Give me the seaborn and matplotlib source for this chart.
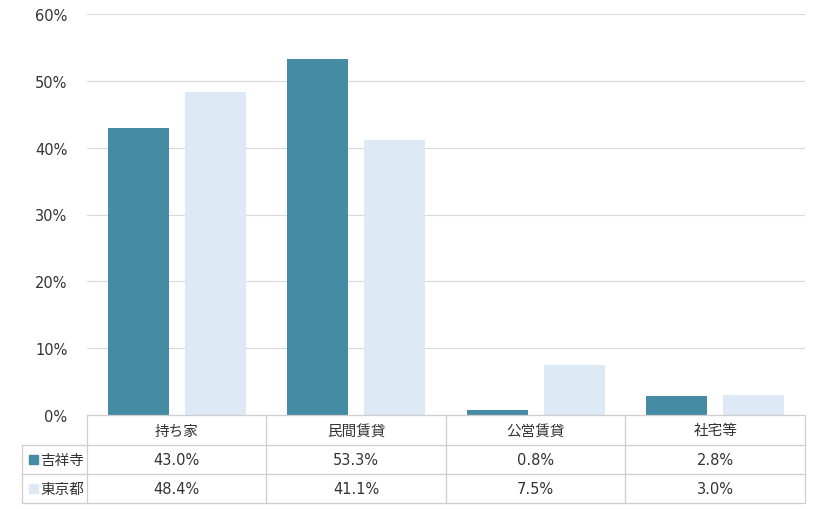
import numpy as np
import pandas as pd
import matplotlib
matplotlib.use("Agg")
import matplotlib.pyplot as plt
import seaborn as sns

categories = ["持ち家", "民間賃貸", "公営賃貸", "社宅等"]
series_names = ["吉祥寺", "東京都"]
kichijoji = [43.0, 53.3, 0.8, 2.8]
tokyo = [48.4, 41.1, 7.5, 3.0]
colors = ["#468BA4", "#DDE9F5"]

df = pd.DataFrame({
    "category": categories * 2,
    "area": [series_names[0]] * 4 + [series_names[1]] * 4,
    "value": kichijoji + tokyo,
})

sns.set_style("white")
plt.rcParams["font.family"] = ["DejaVu Sans", "Noto Sans CJK JP"]
fs = 10.5
grid_c = "#D9D9D9"
text_c = "#333333"

W, H = 820, 510
fig = plt.figure(figsize=(8.2, 5.1), dpi=100)
ax = fig.add_axes([87 / W, 1 - 416 / H, (805 - 87) / W, (416 - 15) / H])

sns.barplot(data=df, x="category", y="value", hue="area", palette=colors,
            width=0.856, gap=0.206, legend=False, ax=ax, saturation=1,
            linewidth=0, edgecolor="none")

ax.set_ylim(0, 60)
ax.set_xlim(-0.5, 3.5)
ax.set_yticks(range(0, 61, 10))
ax.set_yticklabels([f"{v}%" for v in range(0, 61, 10)], fontsize=fs, color=text_c)
ax.set_xticks([])
ax.set_xlabel("")
ax.set_ylabel("")
ax.tick_params(axis="y", length=0, pad=14)
for v in range(10, 61, 10):
    ax.axhline(v, color=grid_c, lw=0.8, zorder=0)
for s in ax.spines.values():
    s.set_visible(False)

# data table under the plot
tab = fig.add_axes([0, 0, 1, 1], facecolor="none")
tab.set_xlim(0, W)
tab.set_ylim(H, 0)
tab.axis("off")

x0, xl, x1 = 22, 87, 805
yh, y1, y2, y3 = 416, 446, 475, 504
cw = (x1 - xl) / 4
lc = "#CFCFCF"
lw = 0.9
tab.plot([xl, x1], [yh, yh], color=lc, lw=lw)
tab.plot([x0, x1], [y1, y1], color=lc, lw=lw)
tab.plot([x0, x1], [y2, y2], color=lc, lw=lw)
tab.plot([x0, x1], [y3, y3], color=lc, lw=lw)
tab.plot([x0, x0], [y1, y3], color=lc, lw=lw)
for i in range(5):
    tab.plot([xl + i * cw] * 2, [yh, y3], color=lc, lw=lw)

for i, c in enumerate(categories):
    tab.text(xl + (i + 0.5) * cw, (yh + y1) / 2, c, ha="center", va="center",
             fontsize=fs, color=text_c)

rows = [kichijoji, tokyo]
for r, (name, vals, col) in enumerate(zip(series_names, rows, colors)):
    yc = [(y1 + y2) / 2, (y2 + y3) / 2][r]
    tab.add_patch(plt.Rectangle((29, yc - 4.5), 9, 9, color=col))
    tab.text(40, yc, name, ha="left", va="center", fontsize=fs, color=text_c)
    for i, v in enumerate(vals):
        tab.text(xl + (i + 0.5) * cw, yc, f"{v:.1f}%", ha="center", va="center",
                 fontsize=fs, color=text_c)

fig.savefig("out.png", dpi=100)
